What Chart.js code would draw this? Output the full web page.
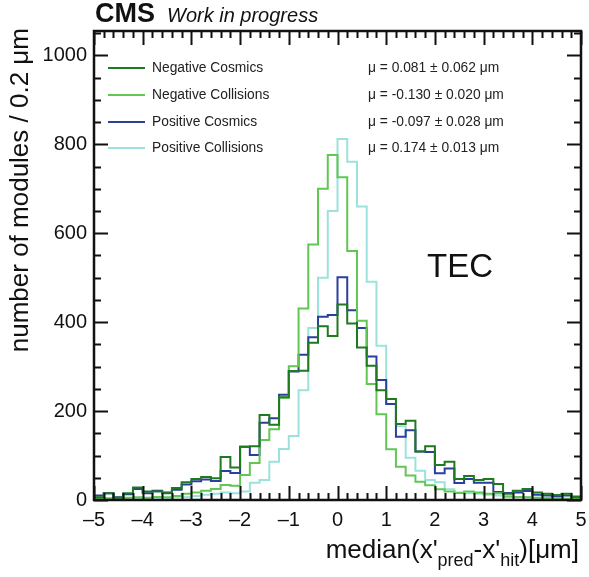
<!DOCTYPE html>
<html lang="en">
<head>
    <meta charset="UTF-8">
    <title>TEC median residuals</title>
    <script src="https://cdn.jsdelivr.net/npm/chart.js"></script>
    <style>
        html, body { margin: 0; padding: 0; background: #fff; }
        #wrap { width: 589px; height: 577px; }
    </style>
</head>
<body>
    <div id="wrap"><canvas id="tecChart" width="589" height="577"></canvas></div>

    <script>
        // histogram binning: 50 bins of 0.2 from -5 to 5
        const xLow = -5;
        const xHigh = 5;
        const binWidth = 0.2;

        const seriesNames = ['Negative Cosmics', 'Negative Collisions', 'Positive Cosmics', 'Positive Collisions'];
        const seriesMeans = [
            '\u03bc = 0.081 \u00b1 0.062 \u03bcm',
            '\u03bc = -0.130 \u00b1 0.020 \u03bcm',
            '\u03bc = -0.097 \u00b1 0.028 \u03bcm',
            '\u03bc = 0.174 \u00b1 0.013 \u03bcm'
        ];
        const seriesColors = ['#1f7a1f', '#62c654', '#2b3f9c', '#9be2dd'];

        const negCosmics = [6, 15, 5, 15, 28, 19, 19, 15, 27, 40,
            47, 52, 49, 97, 73, 120, 121, 191, 169, 231,
            290, 291, 354, 391, 369, 440, 397, 343, 302, 247,
            227, 171, 178, 109, 121, 79, 86, 47, 54, 45,
            47, 36, 14, 21, 25, 17, 14, 11, 14, 8];
        const negCollisions = [3, 4, 3, 5, 6, 5, 7, 6, 9, 14,
            17, 21, 25, 34, 32, 56, 83, 135, 159, 230,
            301, 431, 575, 700, 776, 726, 560, 403, 261, 193,
            114, 75, 55, 41, 33, 24, 19, 16, 19, 17,
            14, 15, 8, 7, 6, 5, 4, 4, 3, 3];
        const posCosmics = [10, 15, 6, 13, 25, 15, 21, 17, 23, 35,
            42, 46, 43, 65, 61, 120, 101, 174, 184, 237,
            289, 327, 366, 412, 416, 501, 427, 387, 323, 270,
            216, 142, 157, 109, 108, 60, 71, 38, 47, 39,
            39, 18, 16, 17, 20, 12, 10, 9, 10, 6];
        const posCollisions = [2, 3, 2, 4, 3, 4, 5, 5, 6, 7,
            9, 12, 14, 17, 15, 19, 39, 45, 86, 115,
            144, 247, 387, 500, 650, 812, 761, 660, 491, 347,
            216, 166, 95, 66, 45, 40, 24, 17, 15, 14,
            12, 10, 8, 6, 6, 5, 4, 4, 3, 3];

        const yTicks = [0, 200, 400, 600, 800, 1000];
        const yMax = 1055;

        const FONT = "'Liberation Sans', Arial, Helvetica, sans-serif";

        // bin contents -> step points at the low edges (+ closing point at the upper edge)
        function histPoints(values) {
            const pts = values.map((v, i) => ({ x: xLow + i * binWidth, y: v }));
            pts.push({ x: xHigh, y: values[values.length - 1] });
            return pts;
        }

        const allSeries = [negCosmics, negCollisions, posCosmics, posCollisions];

        const framePlugin = {
            id: 'rootFrame',
            afterDraw(chart) {
                const ctx = chart.ctx;
                const a = chart.chartArea;
                const xs = chart.scales.x;
                const ys = chart.scales.y;
                ctx.save();
                ctx.strokeStyle = '#111';
                ctx.lineWidth = 2;

                // ticks on all four sides
                ctx.beginPath();
                for (let k = 0; k <= 50; k++) {
                    const px = Math.round(xs.getPixelForValue(xLow + k * binWidth)) + 0.5;
                    const len = k % 5 === 0 ? 14 : 7;
                    ctx.moveTo(px, a.bottom); ctx.lineTo(px, a.bottom - len);
                    ctx.moveTo(px, a.top); ctx.lineTo(px, a.top + len);
                }
                for (let k = 0; k * 50 <= yMax; k++) {
                    const py = Math.round(ys.getPixelForValue(k * 50)) + 0.5;
                    const len = k % 4 === 0 ? 14 : 7;
                    ctx.moveTo(a.left, py); ctx.lineTo(a.left + len, py);
                    ctx.moveTo(a.right, py); ctx.lineTo(a.right - len, py);
                }
                ctx.stroke();
                ctx.lineWidth = 2.5;
                ctx.strokeRect(a.left, a.top, a.right - a.left, a.bottom - a.top);

                // legend
                const rows = [68, 95, 122, 148];
                ctx.font = '13.8px ' + FONT;
                ctx.textBaseline = 'middle';
                rows.forEach((ry, i) => {
                    ctx.strokeStyle = seriesColors[i];
                    ctx.lineWidth = 2;
                    ctx.beginPath();
                    ctx.moveTo(108, ry); ctx.lineTo(145, ry);
                    ctx.stroke();
                    ctx.fillStyle = '#222';
                    ctx.fillText(seriesNames[i], 152, ry);
                    ctx.fillText(seriesMeans[i], 368, ry);
                });

                // header
                ctx.textBaseline = 'alphabetic';
                ctx.fillStyle = '#111';
                ctx.font = 'bold 27px ' + FONT;
                ctx.fillText('CMS', 95, 22);
                ctx.font = 'italic 20px ' + FONT;
                ctx.fillText('Work in progress', 167, 22);

                ctx.font = '33px ' + FONT;
                ctx.fillText('TEC', 427, 277);

                // y title
                ctx.save();
                ctx.font = '26px ' + FONT;
                ctx.translate(28, 28);
                ctx.rotate(-Math.PI / 2);
                ctx.textAlign = 'right';
                ctx.fillText('number of modules / 0.2 \u03bcm', 0, 0);
                ctx.restore();

                // x title with subscripts, right aligned
                const parts = [
                    ['median(x\'', 26, 0],
                    ['pred', 18, 8],
                    ['-x\'', 26, 0],
                    ['hit', 18, 8],
                    [')[\u03bcm]', 26, 0]
                ];
                let total = 0;
                parts.forEach(p => { ctx.font = p[1] + 'px ' + FONT; total += ctx.measureText(p[0]).width; });
                let cx = 579 - total;
                ctx.textAlign = 'left';
                parts.forEach(p => {
                    ctx.font = p[1] + 'px ' + FONT;
                    ctx.fillText(p[0], cx, 558 + p[2]);
                    cx += ctx.measureText(p[0]).width;
                });
                ctx.restore();
            }
        };

        new Chart(document.getElementById('tecChart'), {
            type: 'line',
            data: {
                datasets: allSeries.map((vals, i) => ({
                    label: seriesNames[i],
                    data: histPoints(vals),
                    borderColor: seriesColors[i],
                    borderWidth: 2,
                    stepped: true,
                    fill: false,
                    pointRadius: 0,
                    tension: 0
                }))
            },
            options: {
                responsive: false,
                animation: false,
                devicePixelRatio: 1,
                layout: { padding: { left: 0, right: 8, top: 31, bottom: 0 } },
                plugins: { legend: { display: false }, tooltip: { enabled: false } },
                scales: {
                    x: {
                        type: 'linear',
                        min: xLow,
                        max: xHigh,
                        grid: { display: false, drawTicks: false },
                        border: { display: false },
                        ticks: {
                            stepSize: 1,
                            padding: 8,
                            maxRotation: 0,
                            color: '#111',
                            font: { family: FONT, size: 20 },
                            callback: v => String(v).replace('-', '\u2013')
                        },
                        afterFit: s => { s.height = 77; s.paddingLeft = 0; s.paddingRight = 0; }
                    },
                    y: {
                        min: 0,
                        max: yMax,
                        grid: { display: false, drawTicks: false },
                        border: { display: false },
                        afterBuildTicks: s => { s.ticks = yTicks.map(v => ({ value: v })); },
                        ticks: {
                            padding: 7,
                            color: '#111',
                            font: { family: FONT, size: 20 },
                            callback: v => String(v)
                        },
                        afterFit: s => { s.width = 94; }
                    }
                }
            },
            plugins: [framePlugin]
        });
    </script>
</body>
</html>
